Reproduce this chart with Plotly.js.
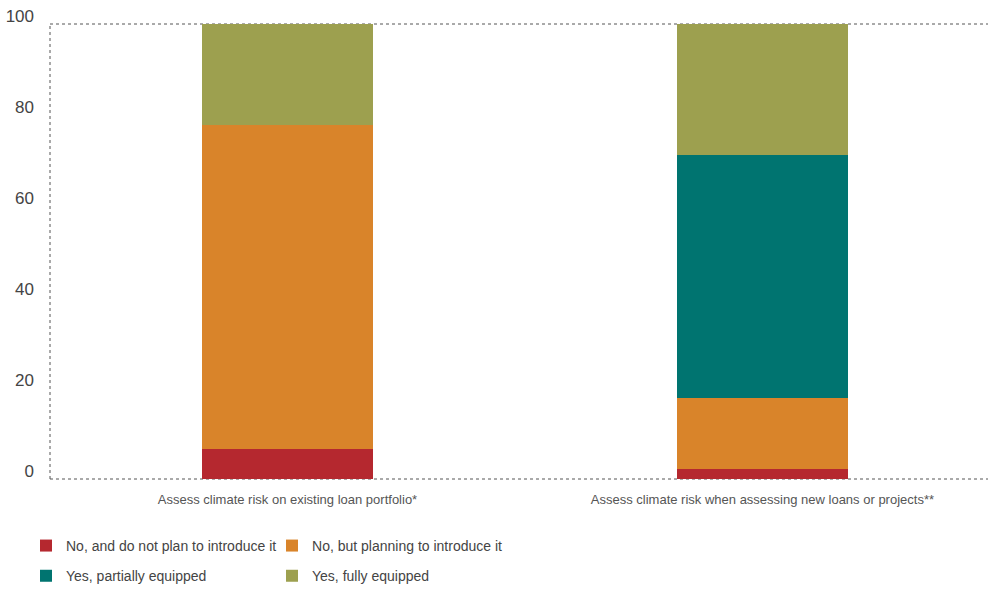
<!DOCTYPE html>
<html>
<head>
<meta charset="utf-8">
<script src="https://cdn.plot.ly/plotly-3.0.1.min.js"></script>
<style>html,body{margin:0;padding:0;background:#fff;}#chart{width:989px;height:591px;}</style>
</head>
<body>
<div id="chart"></div>
<script>
const categories = ["Assess climate risk on existing loan portfolio*", "Assess climate risk when assessing new loans or projects**"];
const seriesNames = ["No, and do not plan to introduce it", "No, but planning to introduce it", "Yes, partially equipped", "Yes, fully equipped"];
const noNotPlanning = [6.7, 2.3];
const noPlanning = [71.1, 15.6];
const yesPartially = [0, 53.3];
const yesFully = [22.2, 28.8];
const yTicks = [0, 20, 40, 60, 80, 100];
const colors = ["#B5282F", "#D9842A", "#007470", "#9DA04F"];
const legendOf = ["legend", "legend2", "legend", "legend2"];

const FONT = "'Liberation Sans', Arial, sans-serif";
const seriesValues = [noNotPlanning, noPlanning, yesPartially, yesFully];
const traces = seriesValues.map((vals, i) => ({
  type: 'bar',
  name: seriesNames[i],
  x: categories,
  y: vals,
  width: 0.36,
  legend: legendOf[i],
  legendgroup: 'g' + i,
  marker: {color: colors[i], line: {width: 0}},
  hoverinfo: 'skip'
}));

const legendFont = {family: FONT, size: 14, color: '#444'};
const dotted = {color: '#555', width: 1, dash: 'dot'};
const layout = {
  width: 989, height: 591,
  barmode: 'stack',
  paper_bgcolor: '#fff', plot_bgcolor: '#fff',
  margin: {l: 50, r: 1, t: 24, b: 112, autoexpand: false},
  font: {family: FONT, color: '#444'},
  xaxis: {
    type: 'category',
    range: [-0.5, 1.475],
    showgrid: false, zeroline: false, showline: false, ticks: '',
    tickfont: {family: FONT, size: 13, color: '#555'},
    ticklabelstandoff: 11
  },
  yaxis: {
    range: [0, 100],
    tickvals: yTicks,
    ticktext: yTicks.map(String),
    showgrid: false, zeroline: false, showline: false, ticks: '',
    tickfont: {family: FONT, size: 17, color: '#444'},
    ticklabelstandoff: 15,
    ticklabelshift: -8
  },
  showlegend: true,
  legend: {
    orientation: 'v',
    x: -0.0256, xanchor: 'left',
    y: -0.112, yanchor: 'top',
    traceorder: 'grouped', tracegroupgap: 9,
    font: legendFont, bgcolor: 'rgba(0,0,0,0)'
  },
  legend2: {
    orientation: 'v',
    x: 0.2367, xanchor: 'left',
    y: -0.112, yanchor: 'top',
    traceorder: 'grouped', tracegroupgap: 9,
    font: legendFont, bgcolor: 'rgba(0,0,0,0)'
  },
  shapes: [
    {type: 'line', xref: 'paper', yref: 'paper', x0: 0, x1: 1, y0: 1, y1: 1, line: dotted, layer: 'below'},
    {type: 'line', xref: 'paper', yref: 'paper', x0: 0, x1: 1, y0: 0, y1: 0, line: dotted, layer: 'below'},
    {type: 'line', xref: 'paper', yref: 'paper', x0: 0, x1: 0, y0: 0, y1: 1, line: dotted, layer: 'below'}
  ]
};

Plotly.newPlot('chart', traces, layout, {staticPlot: true, displayModeBar: false});
</script>
</body>
</html>
